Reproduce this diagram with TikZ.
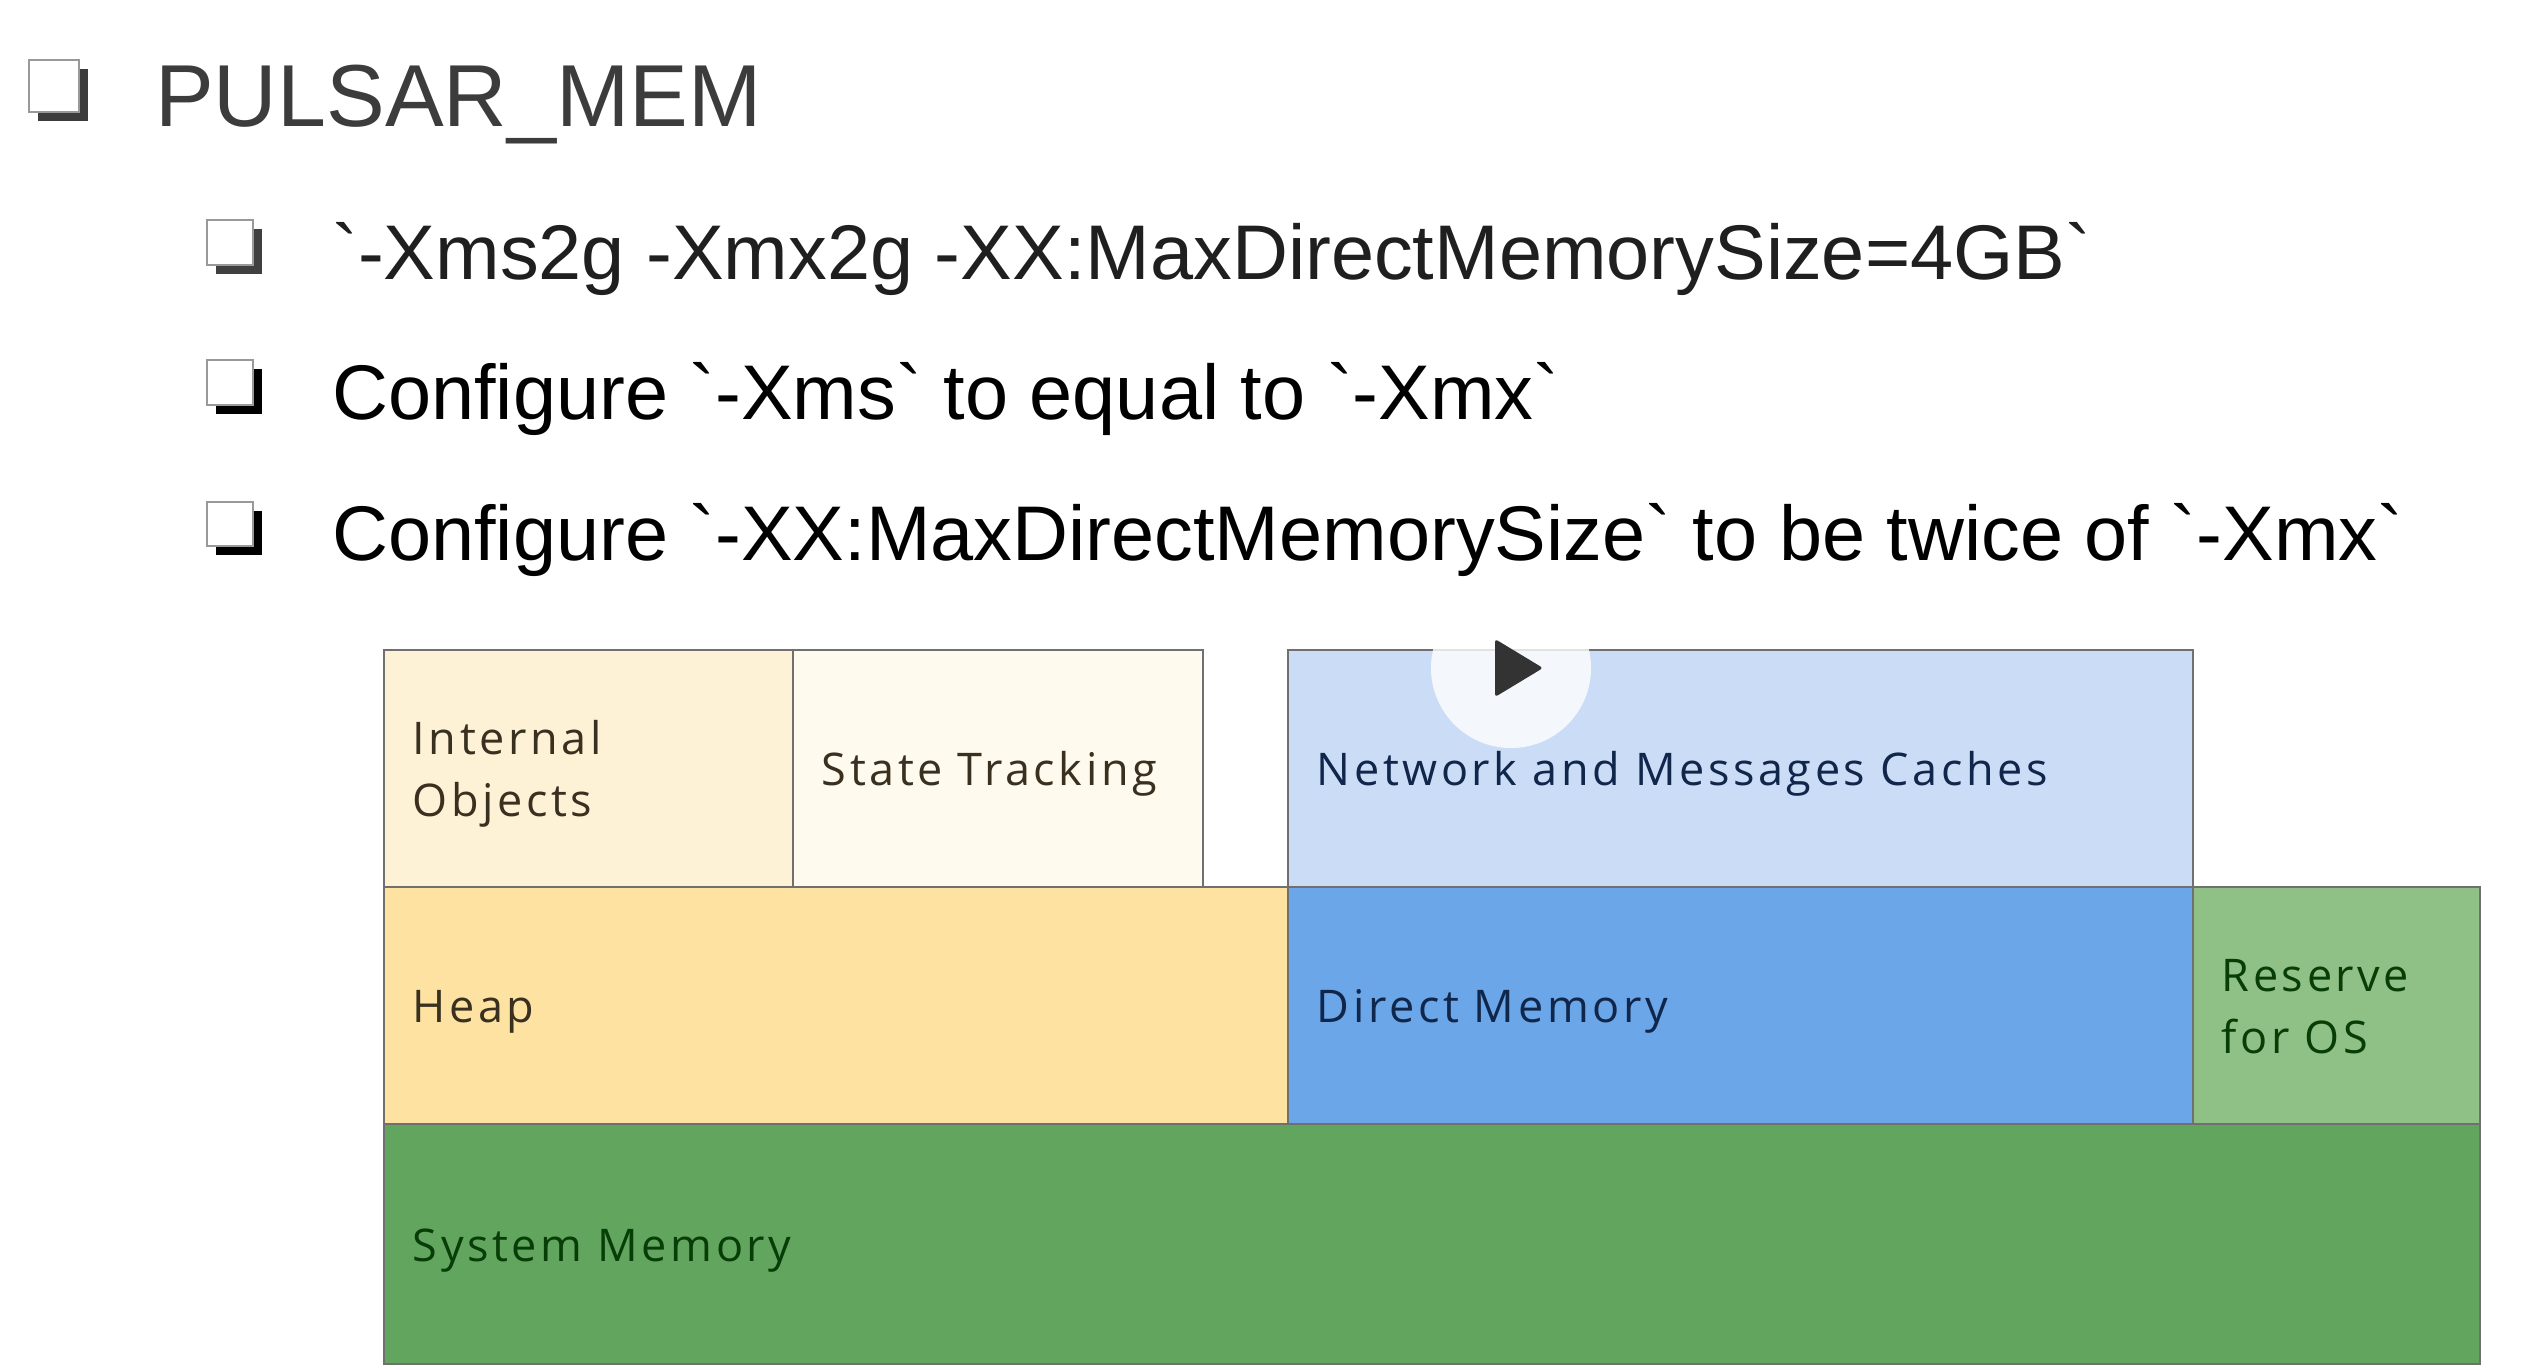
\documentclass[tikz,border=0pt]{standalone}
\usepackage{fontspec}
\setmainfont{Liberation Sans}[Ligatures=TeXOff]
\newfontfamily\boxfont{Open Sans}[LetterSpace=8]
\definecolor{titlegray}{HTML}{3C3C3C}
\definecolor{boxline}{HTML}{707070}
\definecolor{cInt}{HTML}{FEF2D6}
\definecolor{cState}{HTML}{FEFAEE}
\definecolor{cNet}{HTML}{CBDDF6}
\definecolor{cHeap}{HTML}{FDE2A2}
\definecolor{cDir}{HTML}{6AA6E8}
\definecolor{cRes}{HTML}{8FC085}
\definecolor{cSys}{HTML}{62A55E}
\definecolor{tBrown}{HTML}{3A3020}
\definecolor{tBlue}{HTML}{10264A}
\definecolor{tGreen}{HTML}{073D07}
\definecolor{playtri}{HTML}{333333}
\newcommand\shadowbox[5]{% x0 y0 x1 y1 shadowcolor
  \fill[#5] (#1+9,#2+9) rectangle (#3+9,#4+9);
  \filldraw[fill=white, draw=gray!80, line width=1.5pt] (#1,#2) rectangle (#3,#4);
}
\newcommand\mstrut{\rule[-15pt]{0pt}{65pt}}
\newcommand\topstrut{\rule{0pt}{50pt}}
\newcommand\botstrut{\rule[-15pt]{0pt}{15pt}}
\begin{document}
\begin{tikzpicture}[x=1pt,y=-1pt,
  mem/.style={draw=boxline, line width=1.5pt, rectangle, anchor=north west,
    inner xsep=29pt, inner ysep=0pt, align=left,
    font=\boxfont\fontsize{45}{62}\selectfont, minimum height=237pt},
  line/.style={anchor=base west, inner sep=0pt, font=\fontsize{77.5}{90}\selectfont}]
\useasboundingbox[fill=white] (0,0) rectangle (2544,1370);

% title
\shadowbox{29}{60}{79}{112}{titlegray}
\node[anchor=base west, inner sep=0pt, font=\fontsize{88}{100}\selectfont, text=titlegray] (title) at (155,127) {PULSAR\_MEM};

% bullets
\shadowbox{207}{220}{253}{265}{black!75}
\node[line, text=black!88] (b1) at (332,279) {`-Xms2g -Xmx2g -XX:MaxDirectMemorySize=4GB`};
\shadowbox{207}{360}{253}{405}{black}
\node[line] (b2) at (332,419) {Configure `-Xms` to equal to `-Xmx`};
\shadowbox{207}{502}{253}{546}{black}
\node[line] (b3) at (332,560) {Configure `-XX:MaxDirectMemorySize` to be twice of `-Xmx`};

% memory boxes
\node[mem, fill=cInt, text=tBrown, text width=351pt] (io) at (383,649) {\topstrut Internal\\Objects\botstrut};
\node[mem, fill=cState, text=tBrown, text width=352pt] (st) at (792,649) {\mstrut State Tracking};
\node[mem, fill=cNet, text=tBlue, text width=847pt] (nc) at (1287,649) {\mstrut Network and Messages Caches};
\node[mem, fill=cHeap, text=tBrown, text width=846pt] (hp) at (383,886) {\mstrut Heap};
\node[mem, fill=cDir, text=tBlue, text width=847pt] (dm) at (1287,886) {\mstrut Direct Memory};
\node[mem, fill=cRes, text=tGreen, text width=229pt] (os) at (2192,886) {\topstrut Reserve\\for OS\botstrut};
\node[mem, fill=cSys, text=tGreen, text width=2038pt, minimum height=240pt] (sm) at (383,1123) {\mstrut System Memory};

% play button
\node[circle, fill=white, fill opacity=0.8, minimum size=160pt, inner sep=0pt] (play) at (1511,668) {};
\fill[playtri, rounded corners=3pt] (1495,639) -- (1543,668) -- (1495,697) -- cycle;
\end{tikzpicture}
\end{document}
